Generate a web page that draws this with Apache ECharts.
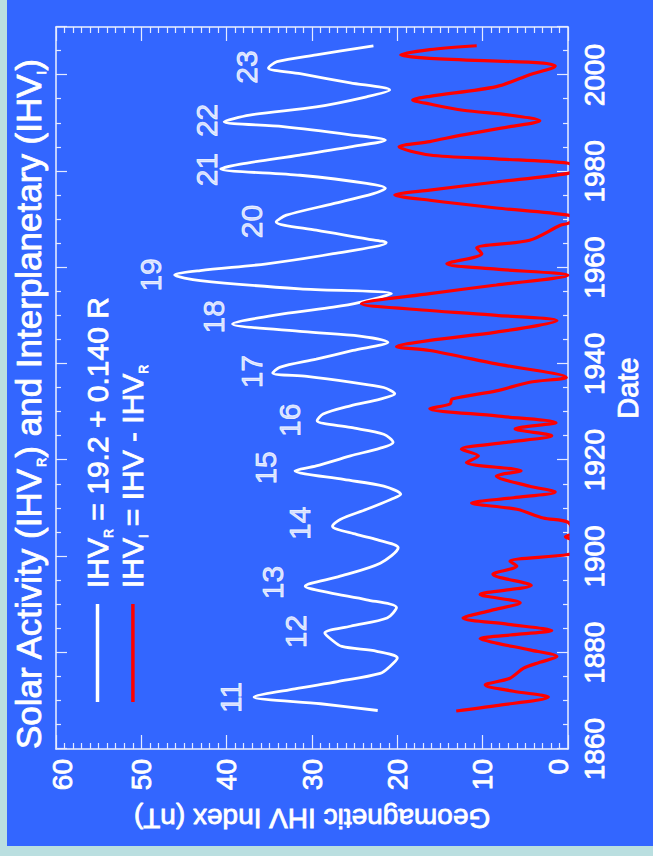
<!DOCTYPE html>
<html><head><meta charset="utf-8">
<script src="https://cdn.jsdelivr.net/npm/echarts@6/dist/echarts.min.js"></script>
<style>
html,body{margin:0;padding:0;width:653px;height:856px;overflow:hidden;background:#badfe0;}
#chart{position:absolute;left:0;top:0;width:856px;height:653px;transform-origin:0 0;transform:translate(0px,856px) rotate(-90deg);}
</style></head><body><div id="chart"></div>
<script>
// ---- data ----
const ihvRYears = [1868.0,1869.4,1870.8,1872.5,1874.0,1875.7,1877.1,1878.9,1880.3,1881.3,1882.7,1884.1,1885.5,1887.2,1889.4,1891.0,1892.5,1893.8,1895.9,1898.6,1901.8,1903.5,1904.6,1906.3,1907.7,1909.8,1911.9,1912.9,1914.6,1916.0,1917.8,1918.8,1920.9,1922.5,1923.7,1925.4,1926.8,1928.2,1929.6,1931.3,1932.7,1933.8,1935.1,1936.2,1937.4,1938.1,1939.3,1941.0,1942.8,1944.5,1945.8,1946.7,1948.3,1950.4,1951.8,1952.8,1954.6,1955.6,1957.3,1958.5,1959.4,1960.8,1962.9,1965.2,1966.0,1967.8,1969.5,1970.9,1973.3,1975.4,1976.5,1977.5,1979.2,1980.5,1981.5,1983.4,1985.1,1986.5,1987.6,1989.3,1990.3,1991.7,1993.4,1995.5,1996.9,1998.4,2000.3,2001.5,2002.8,2004.2,2006.1];
const ihvRValues = [22.3,29.0,36.8,32.0,27.0,22.0,20.9,20.0,22.4,26.5,27.7,28.5,25.5,21.2,20.1,23.6,28.0,30.8,26.7,22.0,19.9,22.4,24.8,27.6,26.7,23.6,20.7,19.6,21.6,26.3,32.0,29.5,25.5,22.0,20.5,21.6,25.5,29.4,28.7,25.5,22.0,20.3,21.6,25.5,30.6,34.6,33.8,29.5,25.2,21.1,24.4,31.0,39.3,33.4,27.5,24.4,20.7,31.4,43.1,46.1,43.1,35.3,27.5,21.3,23.6,29.5,34.2,33.0,27.5,22.8,21.4,23.6,31.4,40.7,38.4,31.4,25.5,21.4,25.5,33.4,40.3,37.3,29.5,23.6,20.9,25.5,31.4,35.1,34.1,29.5,22.8];

const ihvIYears = [1867.9,1869.0,1870.8,1872.0,1873.3,1874.7,1876.8,1878.0,1879.2,1880.6,1882.0,1882.9,1883.8,1884.6,1885.9,1887.2,1888.8,1890.4,1892.1,1894.0,1896.3,1898.0,1899.0,1900.4,1901.5,1903.3,1904.1,1904.9,1907.1,1908.0,1909.8,1911.1,1912.2,1913.4,1914.6,1916.7,1917.8,1919.5,1920.9,1922.3,1923.7,1925.1,1926.5,1927.8,1929.2,1930.7,1931.7,1932.7,1934.4,1936.2,1937.2,1940.0,1942.8,1943.6,1944.9,1946.6,1949.0,1950.1,1951.1,1952.5,1954.6,1956.4,1958.4,1959.7,1960.8,1962.9,1964.1,1965.7,1968.8,1969.2,1970.0,1970.9,1972.4,1974.0,1975.1,1976.1,1977.8,1979.6,1980.6,1981.7,1982.6,1983.4,1985.1,1986.2,1987.6,1989.3,1990.5,1991.7,1992.7,1994.0,1994.85,1995.6,1997.6,2000.1,2001.9,2002.5,2003.5,2004.2,2005.3,2006.1];
const ihvIValues = [13.1,8.4,2.3,6.4,9.7,6.8,5.2,3.3,1.3,4.5,8.4,10.3,6.0,1.9,7.0,12.3,9.0,5.6,10.3,4.3,8.8,6.0,6.8,0.0,-1.5,-0.6,0.3,-0.6,0.0,2.9,6.0,11.3,6.4,1.5,4.5,8.4,5.5,11.9,10.5,12.5,7.2,1.9,6.2,1.4,8.4,16.2,13.8,13.6,8.4,4.5,0.2,8.4,16.2,20.1,16.2,8.4,1.3,8.4,16.2,24.2,16.2,8.4,0.0,8.4,14.2,10.1,10.7,4.5,0.9,0.0,-0.8,0.0,8.4,16.2,20.3,16.2,8.4,0.0,-0.8,0.0,8.4,16.2,19.8,16.2,12.3,6.8,3.3,6.8,12.3,16.2,18.2,16.2,8.4,4.5,1.5,2.9,16.2,19.6,16.2,10.7];

const cycleNames  = ['11','12','13','14','15','16','17','18','19','20','21','22','23'];
const cycleYears  = [1870.7,1884.4,1894.6,1906.9,1918.4,1928.3,1938.4,1949.8,1958.5,1969.6,1980.4,1990.6,2001.7];
const cycleValues = [39.5,31.9,34.6,31.5,35.4,32.6,37.1,41.5,48.9,37.1,42.4,42.4,37.7];

const dateRange = [1860, 2010];
const ihvRange = [0, 60];
const legendLabels = {
  R: 'IHV{s|R} = 19.2 + 0.140 R',
  I: 'IHV{s|I} = IHV - IHV{s|R}'
};
const titleText = 'Solar Activity (IHV{s|R}) and Interplanetary (IHV{s|I})';

// ---- chart ----
const FONT = 'Liberation Sans';
const tickColor = '#e4eaff';
const heavy = {textBorderColor: '#ffffff', textBorderWidth: 0.8};
const chart = echarts.init(document.getElementById('chart'), null, {renderer: 'svg'});

function zip(xs, ys) { return xs.map((x, i) => [x, ys[i]]); }

const xCommon = {
  type: 'value', min: dateRange[0], max: dateRange[1], interval: 20,
  axisLine: {show: true, onZero: false, lineStyle: {color: '#eef2ff', width: 1.5}},
  axisTick: {show: true, inside: true, length: 11, lineStyle: {color: tickColor, width: 1.2}},
  minorTick: {show: true, splitNumber: 4, length: 5, lineStyle: {color: tickColor, width: 1.2}},
  splitLine: {show: false}
};
const yCommon = {
  type: 'value', min: ihvRange[0], max: ihvRange[1], interval: 10,
  axisLine: {show: true, onZero: false, lineStyle: {color: '#eef2ff', width: 1.5}},
  axisTick: {show: true, inside: true, length: 14, lineStyle: {color: tickColor, width: 1.2}},
  minorTick: {show: true, splitNumber: 10, length: 6, lineStyle: {color: tickColor, width: 1.2}},
  splitLine: {show: false}
};
const lblStyle = Object.assign({color: '#fff', fontSize: 28, fontFamily: FONT}, heavy);

chart.setOption({
  animation: false,
  backgroundColor: 'transparent',
  graphic: {elements: [{type: 'rect', z: -100, silent: true, left: 10, top: 7,
    shape: {width: 846, height: 646}, style: {fill: '#3366ff'}}]},
  title: {
    text: titleText, left: 107, top: 8, padding: 0,
    textStyle: Object.assign({color: '#fff', fontSize: 35, fontWeight: 'normal', fontFamily: FONT, lineHeight: 40,
      rich: {s: Object.assign({color: '#fff', fontSize: 13, fontFamily: FONT, lineHeight: 16, verticalAlign: 'bottom'}, heavy)}}, heavy)
  },
  legend: {
    orient: 'vertical', left: 154, top: 80, padding: 0, itemGap: 0,
    itemWidth: 98, itemHeight: 3.5, icon: 'rect',
    data: ['R', 'I'],
    formatter: name => legendLabels[name],
    textStyle: Object.assign({color: '#fff', fontSize: 30, fontFamily: FONT, lineHeight: 35, padding: [0, 0, 0, 11],
      rich: {s: Object.assign({color: '#fff', fontSize: 12.5, fontFamily: FONT, lineHeight: 19, verticalAlign: 'bottom'}, heavy)}}, heavy)
  },
  grid: {left: 107, right: 27, top: 56, bottom: 85},
  xAxis: [
    Object.assign({}, xCommon, {position: 'bottom', name: 'Date', nameLocation: 'middle', nameGap: 44,
      nameTextStyle: Object.assign({color: '#fff', fontSize: 29, fontFamily: FONT}, heavy),
      axisLabel: Object.assign({margin: 12, formatter: v => String(v)}, lblStyle)}),
    Object.assign({}, xCommon, {position: 'top', axisLabel: {show: false}})
  ],
  yAxis: [
    Object.assign({}, yCommon, {position: 'left', name: 'Geomagnetic IHV Index (nT)', nameLocation: 'middle',
      nameRotate: 90, nameGap: 55,
      nameTextStyle: Object.assign({color: '#fff', fontSize: 28, fontFamily: FONT}, heavy),
      axisLabel: Object.assign({margin: 10,
        formatter: v => v === 0 ? '{z|0}' : (v === 60 ? '{m|60}' : String(v)),
        rich: {
          z: Object.assign({padding: [0, 0, 20, 0]}, lblStyle),
          m: Object.assign({padding: [12, 0, 0, 0]}, lblStyle)
        }}, lblStyle)}),
    Object.assign({}, yCommon, {position: 'right', axisLabel: {show: false}})
  ],
  series: [
    {name: 'R', type: 'line', xAxisIndex: 0, yAxisIndex: 0, data: zip(ihvRYears, ihvRValues),
      showSymbol: false, smooth: 0.3, lineStyle: {color: '#ffffff', width: 2.8}, itemStyle: {color: '#ffffff'}, z: 3},
    {name: 'I', type: 'line', xAxisIndex: 0, yAxisIndex: 0, data: zip(ihvIYears, ihvIValues),
      showSymbol: false, smooth: 0.3, clip: true, lineStyle: {color: '#ff0000', width: 3.2}, itemStyle: {color: '#ff0000'}, z: 4},
    {name: 'cycles', type: 'scatter', xAxisIndex: 0, yAxisIndex: 0, symbolSize: 0.1,
      itemStyle: {color: 'transparent'},
      data: cycleYears.map((y, i) => ({value: [y, cycleValues[i]], name: cycleNames[i]})),
      label: Object.assign({show: true, position: 'inside', formatter: p => p.name, color: '#fff', fontSize: 30, fontFamily: FONT}, heavy)}
  ]
});
</script></body></html>
